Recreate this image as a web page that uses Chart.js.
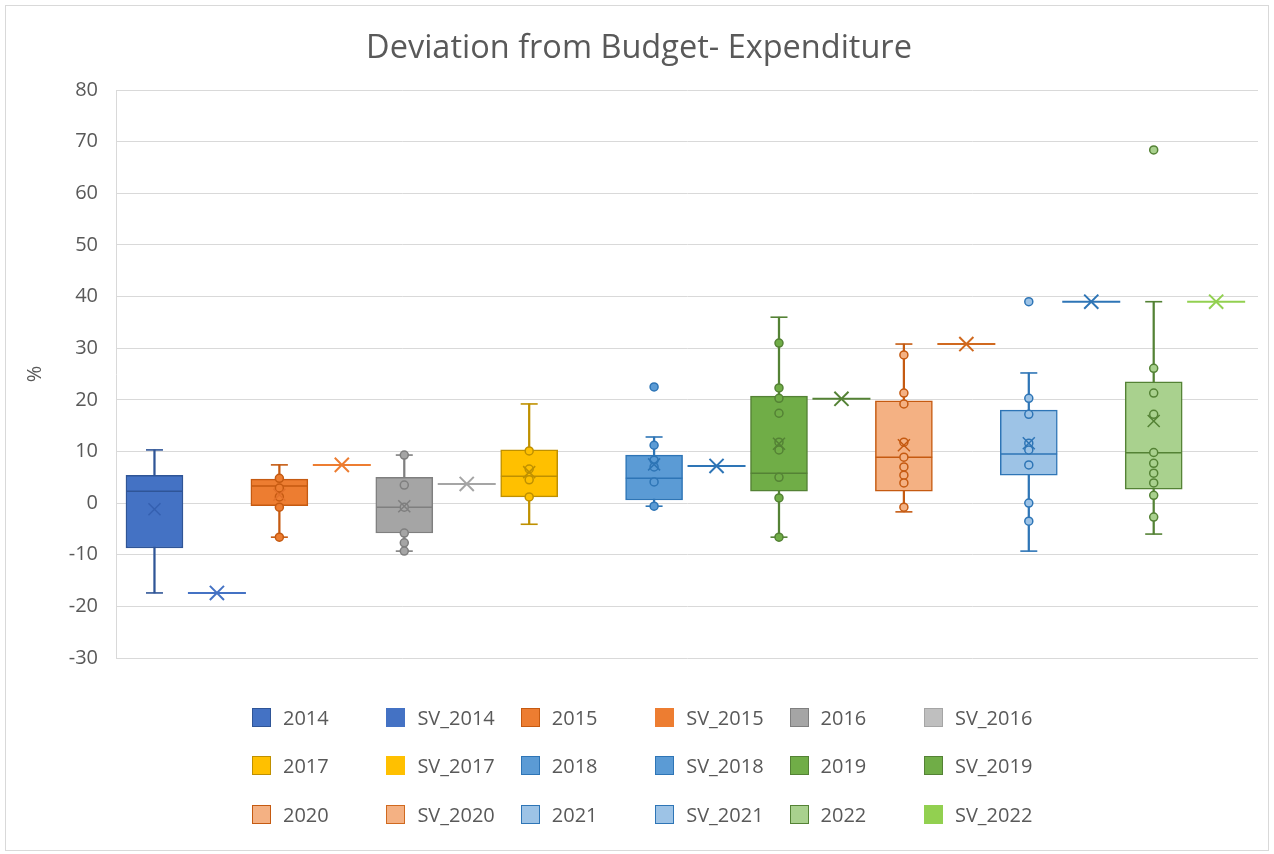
<!DOCTYPE html>
<html>
<head>
<meta charset="utf-8">
<script src="https://cdn.jsdelivr.net/npm/chart.js@4.4.0/dist/chart.umd.min.js"></script>
<style>
  html, body { margin: 0; padding: 0; background: #ffffff; }
  #wrap { position: relative; width: 1274px; height: 854px; overflow: hidden; background: #fff; }
  #frame { position: absolute; left: 5px; top: 5px; width: 1264px; height: 846px; border: 1px solid #D9D9D9; box-sizing: border-box; }
  #chart { position: absolute; left: 0; top: 0; }
  #legend { position: absolute; left: 252px; top: 693px; display: grid; grid-template-columns: repeat(6, 134.4px); grid-auto-rows: 48.5px; font-family: 'Open Sans', sans-serif; font-size: 20px; color: #595959; }
  .item { display: flex; align-items: center; white-space: nowrap; }
  .sw { width: 19px; height: 19px; box-sizing: border-box; border: 1.5px solid; margin-right: 12px; flex: none; }
</style>
</head>
<body>
<div id="wrap">
  <div id="frame"></div>
  <canvas id="chart" width="1274" height="854"></canvas>
  <div id="legend"></div>
</div>
<script>
// ---------- data ----------
const categories = ['2014','SV_2014','2015','SV_2015','2016','SV_2016','2017','SV_2017','2018','SV_2018',
                    '2019','SV_2019','2020','SV_2020','2021','SV_2021','2022','SV_2022'];
const years = ['2014','2015','2016','2017','2018','2019','2020','2021','2022'];
const yTicks = [-30, -20, -10, 0, 10, 20, 30, 40, 50, 60, 70, 80];

const boxMin    = [-17.4, -6.6, -9.3, -4.1, -0.6, -6.6, -1.7, -9.3, -6.0];
const boxQ1     = [ -8.7, -0.5, -5.8,  1.2,  0.6,  2.3,  2.3,  5.4,  2.7];
const boxMedian = [  2.3,  3.3, -0.8,  5.2,  4.8,  5.8,  8.9,  9.5,  9.75];
const boxQ3     = [  5.4,  4.65, 5.0, 10.3,  9.3, 20.7, 19.8, 18.0, 23.5];
const boxMax    = [ 10.3,  7.4,  9.3, 19.2, 12.8, 36.0, 30.8, 25.2, 39.0];
const boxMean   = [ -1.2,  1.6, -0.6,  6.0,  7.5, 11.5, 11.2, 11.6, 15.9];
const svValues  = [-17.4,  7.4,  3.7, null,  7.2, 20.2, 30.8, 39.0, 39.0];

const points2014 = [];
const points2015 = [4.8, 2.9, 1.2, -0.8, -6.6];
const points2016 = [9.3, 3.5, -0.8, -5.8, -7.7, -9.3];
const points2017 = [10.1, 6.6, 4.5, 1.2];
const points2018 = [11.2, 8.3, 7.0, 4.1, -0.6];
const points2019 = [31.0, 22.3, 20.3, 17.4, 11.8, 10.3, 5.0, 1.0, -6.6];
const points2020 = [28.7, 21.3, 19.2, 11.8, 8.9, 7.0, 5.4, 3.9, -0.8];
const points2021 = [20.3, 17.2, 11.6, 10.3, 7.4, 0.0, -3.5];
const points2022 = [26.1, 21.3, 17.2, 9.8, 7.7, 5.8, 3.9, 1.5, -2.7];
const outliers2018 = [22.5];
const outliers2021 = [39.0];
const outliers2022 = [68.4];

// ---------- styles ----------
const boxFills   = ['#4472C4','#ED7D31','#A5A5A5','#FFC000','#5B9BD5','#70AD47','#F4B183','#9DC3E6','#A9D18E'];
const boxLines   = ['#2F5597','#C55A11','#7F7F7F','#BF9000','#2E75B6','#548235','#C55A11','#2E75B6','#548235'];
const meanColors = ['#3560B0','#E2702A','#7F7F7F','#BF9000','#2E75B6','#548235','#C55A11','#2E75B6','#548235'];
const svFills    = ['#4472C4','#ED7D31','#BFBFBF','#FFC000','#5B9BD5','#70AD47','#F4B183','#9DC3E6','#92D050'];
const svLines    = ['#4472C4','#ED7D31','#A5A5A5','#FFC000','#2E75B6','#548235','#D0691F','#2E75B6','#92D050'];

const pointsByYear = [points2014, points2015, points2016, points2017, points2018, points2019, points2020, points2021, points2022];
const outliersByYear = [[], [], [], [], outliers2018, [], [], outliers2021, outliers2022];

const xOf = name => categories.indexOf(name);

const datasets = [];
// whiskers
datasets.push({
  type: 'bar', order: 9, grouped: false, barThickness: 1.6,
  data: years.map((y, i) => ({ x: xOf(y), y: [boxMin[i], boxMax[i]] })),
  backgroundColor: boxLines, borderWidth: 0
});
// boxes
datasets.push({
  type: 'bar', order: 8, grouped: false, barThickness: 57,
  data: years.map((y, i) => ({ x: xOf(y), y: [boxQ1[i], boxQ3[i]] })),
  backgroundColor: boxFills, borderColor: boxLines, borderWidth: 1.5, borderSkipped: false
});
// caps
datasets.push({
  type: 'line', order: 7, showLine: false,
  data: years.flatMap((y, i) => [{ x: xOf(y), y: boxMin[i], k: i }, { x: xOf(y), y: boxMax[i], k: i }]),
  pointStyle: 'line', pointRadius: 8.5, pointBorderWidth: 1.6,
  pointBorderColor: c => boxLines[c.raw.k]
});
// medians
datasets.push({
  type: 'line', order: 6, showLine: false,
  data: years.map((y, i) => ({ x: xOf(y), y: boxMedian[i], k: i })),
  pointStyle: 'line', pointRadius: 28.3, pointBorderWidth: 1.5,
  pointBorderColor: c => boxLines[c.raw.k]
});
// inner points and outliers
years.forEach((y, i) => {
  const pts = pointsByYear[i].concat(outliersByYear[i]);
  if (!pts.length) return;
  datasets.push({
    type: 'line', order: 5, showLine: false,
    data: pts.map(v => ({ x: xOf(y), y: v })),
    pointStyle: 'circle', pointRadius: 4, pointBorderWidth: 1.5,
    pointBackgroundColor: boxFills[i], pointBorderColor: boxLines[i]
  });
});
// means
datasets.push({
  type: 'line', order: 4, showLine: false,
  data: years.map((y, i) => ({ x: xOf(y), y: boxMean[i], k: i })),
  pointStyle: 'crossRot', pointRadius: 8.5, pointBorderWidth: 1.5,
  pointBorderColor: c => meanColors[c.raw.k]
});
// single values (SV) lines and markers
const svData = years.map((y, i) => ({ x: xOf('SV_' + y), y: svValues[i], k: i })).filter(d => d.y !== null);
datasets.push({
  type: 'line', order: 3, showLine: false, data: svData,
  pointStyle: 'line', pointRadius: 29, pointBorderWidth: 2,
  pointBorderColor: c => svLines[c.raw.k]
});
datasets.push({
  type: 'line', order: 2, showLine: false, data: svData,
  pointStyle: 'crossRot', pointRadius: 10, pointBorderWidth: 2,
  pointBorderColor: c => svLines[c.raw.k]
});

new Chart(document.getElementById('chart'), {
  data: { datasets },
  options: {
    responsive: false, animation: false, events: [],
    layout: { autoPadding: false, padding: { left: 20, right: 16, top: 0, bottom: 196 } },
    plugins: {
      legend: { display: false },
      tooltip: { enabled: false },
      title: {
        display: true, text: 'Deviation from Budget- Expenditure', color: '#595959',
        font: { family: 'Open Sans', size: 32.5, weight: 'normal' },
        padding: { top: 29, bottom: 22 }
      }
    },
    scales: {
      x: { type: 'linear', min: -0.616, max: 17.67, display: false, offset: false,
           ticks: { display: false }, grid: { display: false } },
      y: {
        type: 'linear', min: yTicks[0], max: yTicks[yTicks.length - 1],
        afterBuildTicks: s => { s.ticks = yTicks.map(v => ({ value: v })); },
        afterFit: s => { s.width = 96; },
        ticks: { color: '#595959', font: { family: 'Open Sans', size: 20 }, padding: 18 },
        grid: { color: '#D9D9D9', lineWidth: 1, drawTicks: false },
        border: { color: '#D9D9D9' },
        title: { display: true, text: '%', color: '#595959', font: { family: 'Open Sans', size: 20 }, padding: { top: 3, bottom: 0 } }
      }
    }
  }
});

// ---------- legend ----------
const legend = document.getElementById('legend');
categories.forEach(name => {
  const isSV = name.startsWith('SV_');
  const i = years.indexOf(isSV ? name.slice(3) : name);
  const item = document.createElement('div');
  item.className = 'item';
  const sw = document.createElement('span');
  sw.className = 'sw';
  sw.style.background = isSV ? svFills[i] : boxFills[i];
  sw.style.borderColor = isSV ? svLines[i] : boxLines[i];
  const t = document.createElement('span');
  t.textContent = name;
  item.appendChild(sw); item.appendChild(t);
  legend.appendChild(item);
});
</script>
</body>
</html>
